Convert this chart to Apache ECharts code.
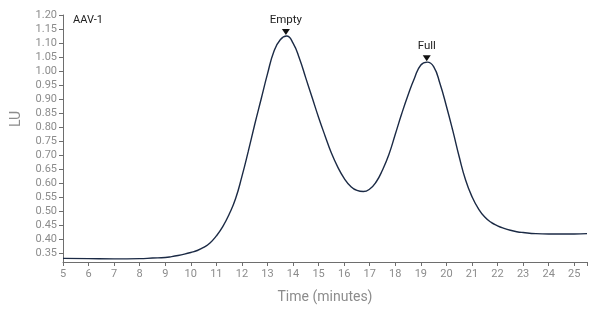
<!DOCTYPE html>
<html>
<head>
<meta charset="utf-8">
<script src="https://cdn.jsdelivr.net/npm/echarts@6/dist/echarts.min.js"></script>
<style>
  html, body { margin: 0; padding: 0; background: #fff; }
  #chart { width: 590px; height: 309px; }
</style>
</head>
<body>
<div id="chart"></div>
<script>
// chromatogram trace (time in minutes, LU)
const times = [
  5.0, 6.0, 7.0, 8.0, 8.5, 9.0, 9.25, 9.5, 9.75, 10.0, 10.25, 10.5, 10.75, 11.0, 11.25, 11.5, 11.75,
  12.0, 12.25, 12.5, 12.75, 13.0, 13.25, 13.5, 13.75, 14.0, 14.25, 14.5, 14.75,
  15.0, 15.25, 15.5, 15.75, 16.0, 16.25, 16.5, 16.75, 17.0, 17.25, 17.5, 17.75,
  18.0, 18.25, 18.5, 18.75, 19.0, 19.25, 19.5, 19.75, 20.0, 20.25, 20.5, 20.75,
  21.0, 21.25, 21.5, 21.75, 22.0, 22.25, 22.5, 22.75, 23.0, 23.5, 24.0, 25.0, 25.5
]
const lu = [
  0.333, 0.332, 0.331, 0.332, 0.334, 0.336, 0.339, 0.343, 0.348, 0.354, 0.361, 0.372, 0.388, 0.413, 0.446, 0.490, 0.545,
  0.625, 0.715, 0.810, 0.900, 0.990, 1.070, 1.112, 1.125, 1.100, 1.045, 0.975, 0.905,
  0.835, 0.770, 0.708, 0.658, 0.618, 0.590, 0.575, 0.571, 0.580, 0.605, 0.648, 0.703,
  0.775, 0.848, 0.915, 0.975, 1.022, 1.032, 1.016, 0.955, 0.875, 0.788, 0.695, 0.612,
  0.553, 0.510, 0.480, 0.461, 0.449, 0.440, 0.433, 0.428, 0.425, 0.421, 0.420, 0.420, 0.421
]

// peak annotations
const peakNames = ['Empty', 'Full']
const peakTimes = [13.72, 19.23]
const peakValues = [1.125, 1.032]

// y tick labels
const yTicks = [0.35, 0.40, 0.45, 0.50, 0.55, 0.60, 0.65, 0.70, 0.75, 0.80,
  0.85, 0.90, 0.95, 1.00, 1.05, 1.10, 1.15, 1.20]

const chart = echarts.init(document.getElementById('chart'))

const font = 'Roboto'
const axisColor = '#6e6e6e'
const labelColor = '#8c8c8c'

const option = {
  animation: false,
  textStyle: { fontFamily: font },
  grid: { left: 63, right: 0, top: 15, bottom: 42 },
  xAxis: {
    type: 'value',
    min: 5,
    max: 25.5,
    interval: 1,
    name: 'Time (minutes)',
    nameLocation: 'middle',
    nameGap: 28,
    nameTextStyle: { color: labelColor, fontSize: 14, fontFamily: font },
    axisLine: { show: true, lineStyle: { color: axisColor, width: 1 } },
    axisTick: { show: true, length: 4, lineStyle: { color: axisColor } },
    axisLabel: { color: labelColor, fontSize: 11, margin: 7, fontFamily: font,
      formatter: v => (Number.isInteger(v) ? String(v) : '') },
    splitLine: { show: false }
  },
  yAxis: {
    type: 'value',
    min: 0.32,
    max: 1.2,
    axisLine: { show: true, lineStyle: { color: axisColor, width: 1 } },
    axisTick: { show: true, length: 4, customValues: yTicks, lineStyle: { color: axisColor } },
    axisLabel: { color: labelColor, fontSize: 11, margin: 6, fontFamily: font,
      customValues: yTicks, formatter: v => v.toFixed(2) },
    splitLine: { show: false }
  },
  graphic: [
    {
      type: 'text', left: 73, top: 15,
      style: { text: 'AAV-1', fill: '#222', font: '11px Roboto' }
    },
    {
      type: 'text', x: 16, y: 119, rotation: Math.PI / 2,
      style: { text: 'LU', fill: labelColor, font: '14px Roboto', align: 'center', verticalAlign: 'middle' }
    }
  ],
  series: [
    {
      type: 'line',
      data: times.map((t, i) => [t, lu[i]]),
      smooth: 0.5,
      showSymbol: false,
      lineStyle: { color: '#1b2a45', width: 1.4 },
      markPoint: {
        symbol: 'triangle',
        symbolRotate: 180,
        symbolSize: [8, 6],
        symbolOffset: [0, -4],
        itemStyle: { color: '#111' },
        label: { show: true, position: 'top', distance: 3, color: '#222', fontSize: 11.5, fontFamily: font,
          formatter: p => p.name },
        data: peakNames.map((n, i) => ({ name: n, coord: [peakTimes[i], peakValues[i]] }))
      }
    }
  ]
}

chart.setOption(option)
</script>
</body>
</html>
